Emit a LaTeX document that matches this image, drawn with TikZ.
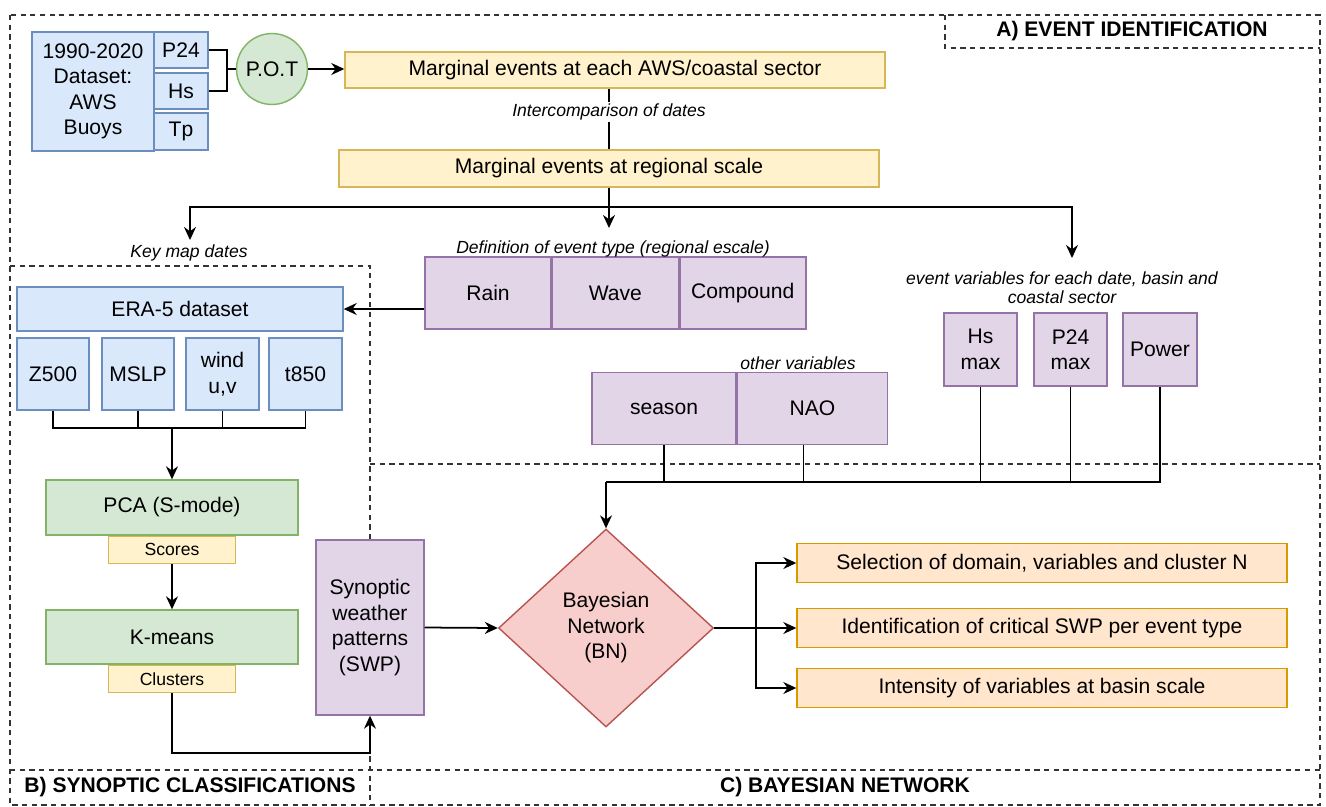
\documentclass[tikz,border=0pt]{standalone}
\usepackage{fontspec}
\setmainfont{Liberation Sans}
\usetikzlibrary{arrows.meta,shapes.geometric,positioning}

\definecolor{bluefill}{HTML}{DAE8FC}\definecolor{bluedraw}{HTML}{6C8EBF}
\definecolor{yelfill}{HTML}{FFF2CC}\definecolor{yeldraw}{HTML}{D6B656}
\definecolor{grnfill}{HTML}{D5E8D4}\definecolor{grndraw}{HTML}{82B366}
\definecolor{purfill}{HTML}{E1D5E7}\definecolor{purdraw}{HTML}{9673A6}
\definecolor{redfill}{HTML}{F8CECC}\definecolor{reddraw}{HTML}{B85450}
\definecolor{orafill}{HTML}{FFE6CC}\definecolor{oradraw}{HTML}{D79B00}

\begin{document}
\begin{tikzpicture}[x=0.02cm, y=-0.02cm, line width=1pt,
  >={Stealth[length=2.6mm,width=2.4mm]},
  box/.style={draw, line width=0.8pt, align=center, inner sep=1pt, font=\fontsize{12}{14.5}\selectfont},
  wh/.style 2 args={minimum width=#1*0.02cm, minimum height=#2*0.02cm},
  bluebox/.style={box, fill=bluefill, draw=bluedraw},
  yelbox/.style={box, fill=yelfill, draw=yeldraw},
  grnbox/.style={box, fill=grnfill, draw=grndraw},
  purbox/.style={box, fill=purfill, draw=purdraw},
  orabox/.style={box, fill=orafill, draw=oradraw},
  decision/.style={box, diamond, fill=redfill, draw=reddraw, inner sep=0pt},
  small/.style={font=\fontsize{10}{12}\selectfont},
  frame/.style={draw=black!80, line width=1pt, dash pattern=on 3pt off 2.5pt},
  lbl/.style={font=\itshape\fontsize{10}{11}\selectfont, inner sep=1pt},
  ttl/.style={font=\bfseries\fontsize{12}{14}\selectfont}]
  \useasboundingbox (0,0) rectangle (1326,806);

  % regions
  \draw[frame] (10,15) rectangle (1320,805);
  \draw[frame] (945,15) |- (1320,48);
  \draw[frame] (10,266) -| (370,805);
  \draw[frame] (370,464) -- (1320,464);
  \draw[frame] (10,770) -- (1320,770);
  \node[ttl] (titA) at (1132,31) {A) EVENT IDENTIFICATION};
  \node[ttl] (titB) at (190,787) {B) SYNOPTIC CLASSIFICATIONS};
  \node[ttl] (titC) at (845,787) {C) BAYESIAN NETWORK};

  % A) event identification
  \node[bluebox, wh={122}{119}] (data) at (93,91.5) {1990-2020\\Dataset:\\AWS\\Buoys};
  \node[bluebox, wh={54}{36}] (p24) at (181,50) {P24};
  \node[bluebox, wh={54}{36}] (hs) at (181,91) {Hs};
  \node[bluebox, wh={54}{37}] (tp) at (181,131.5) {Tp};
  \node[grnbox, circle, minimum size=1.42cm] (pot) at (272,69) {P.O.T};
  \node[yelbox, wh={540}{36}] (marg1) at (615,70) {Marginal events at each AWS/coastal sector};
  \node[yelbox, wh={540}{37}] (marg2) at (609,168.5) {Marginal events at regional scale};

  \node[purbox, wh={126}{72}] (rain) at (488,293) {Rain};
  \node[purbox, wh={126}{72}, right=0pt of rain] (wave) {Wave};
  \node[purbox, wh={126}{72}, right=0pt of wave] (comp) {Compound};
  \node[purbox, wh={144}{72}] (season) at (664,408.5) {season};
  \node[purbox, wh={150}{72}, right=0pt of season] (nao) {NAO};
  \node[purbox, wh={73}{73}] (hsmax) at (980.5,349.5) {Hs\\max};
  \node[purbox, wh={73}{73}] (p24max) at (1070.5,349.5) {P24\\max};
  \node[purbox, wh={74}{73}] (power) at (1160,349.5) {Power};

  \node[lbl] (deflbl) at (613,249) {Definition of event type (regional escale)};
  \node[lbl] (keylbl) at (189,253) {Key map dates};
  \node[lbl] (othlbl) at (798,363) {other variables};
  \node[lbl, align=center] (evlbl) at (1062,288) {event variables for each date, basin and\\coastal sector};

  % B) synoptic classifications
  \node[bluebox, wh={326}{44}] (era) at (180,309) {ERA-5 dataset};
  \node[bluebox, wh={72}{72}] (z500) at (53,374) {Z500};
  \node[bluebox, wh={72}{72}] (mslp) at (138,374) {MSLP};
  \node[bluebox, wh={73}{72}] (wind) at (222.5,374) {wind\\u,v};
  \node[bluebox, wh={73}{72}] (t850) at (305.5,374) {t850};
  \node[grnbox, wh={252}{55}] (pca) at (172,507.5) {PCA (S-mode)};
  \node[yelbox, small, wh={127}{27}, below=0pt of pca] (scores) {Scores};
  \node[grnbox, wh={252}{54}] (kmeans) at (172,637) {K-means};
  \node[yelbox, small, wh={127}{27}, below=0pt of kmeans] (clusters) {Clusters};
  \node[purbox, wh={108}{175}] (swp) at (370,627.5) {Synoptic\\weather\\patterns\\(SWP)};

  % C) bayesian network
  \node[decision, minimum width=4.3cm, minimum height=3.96cm] (bn) at (606,628) {Bayesian\\Network\\(BN)};
  \node[orabox, wh={490}{39}] (sel) at (1042,563) {Selection of domain, variables and cluster N};
  \node[orabox, wh={490}{39}] (ident) at (1042,628) {Identification of critical SWP per event type};
  \node[orabox, wh={490}{39}] (inten) at (1042,688) {Intensity of variables at basin scale};

  \coordinate (br) at (227,69);
  \coordinate (split) at (609,207);
  \coordinate (keytip) at (190,240);
  \coordinate (deftip) at (609,228);
  \coordinate (evtip) at (1072,258);
  \coordinate (mrg) at (172,428);
  \coordinate (cl) at (370,753);
  \coordinate (vin) at (606,482);
  \coordinate (jr) at (756,628);

  \draw (p24.east) -| (br) |- (hs.east);
  \draw (br) -- (pot.west);
  \draw (marg2.north |- marg1.south) -- node[lbl, fill=white, pos=0.38] (inter) {Intercomparison of dates} (marg2.north);
  \path[->]
    (pot.east) edge (pot.east -| marg1.west)
    (marg2.south) edge (deftip)
    (rain.west |- era.east) edge (era.east)
    (mrg) edge (pca.north)
    (scores.south) edge (kmeans.north)
    (swp.east) edge (bn.west)
    (vin) edge (bn.north)
    (bn.east) edge (ident.west)
  ;
  \draw[->] (split) -| (keytip);
  \draw[->] (split) -| (evtip);
  \draw (z500.south) |- (mrg) -| (t850.south);
  \draw (mslp.south) -- (mslp.south |- mrg);
  \draw (wind.south) -- (wind.south |- mrg);
  \draw[->] (clusters.south) |- (cl) -- (swp.south);
  \draw (season.south) -- (season.south |- vin);
  \draw ([xshift=-0.18cm]nao.south) -- ([xshift=-0.18cm]nao.south |- vin);
  \draw (hsmax.south) -- (hsmax.south |- vin);
  \draw (p24max.south) -- (p24max.south |- vin);
  \draw (power.south) |- (vin);
  \draw[->] (jr) |- (sel.west);
  \draw[->] (jr) |- (inten.west);
\end{tikzpicture}
\end{document}
